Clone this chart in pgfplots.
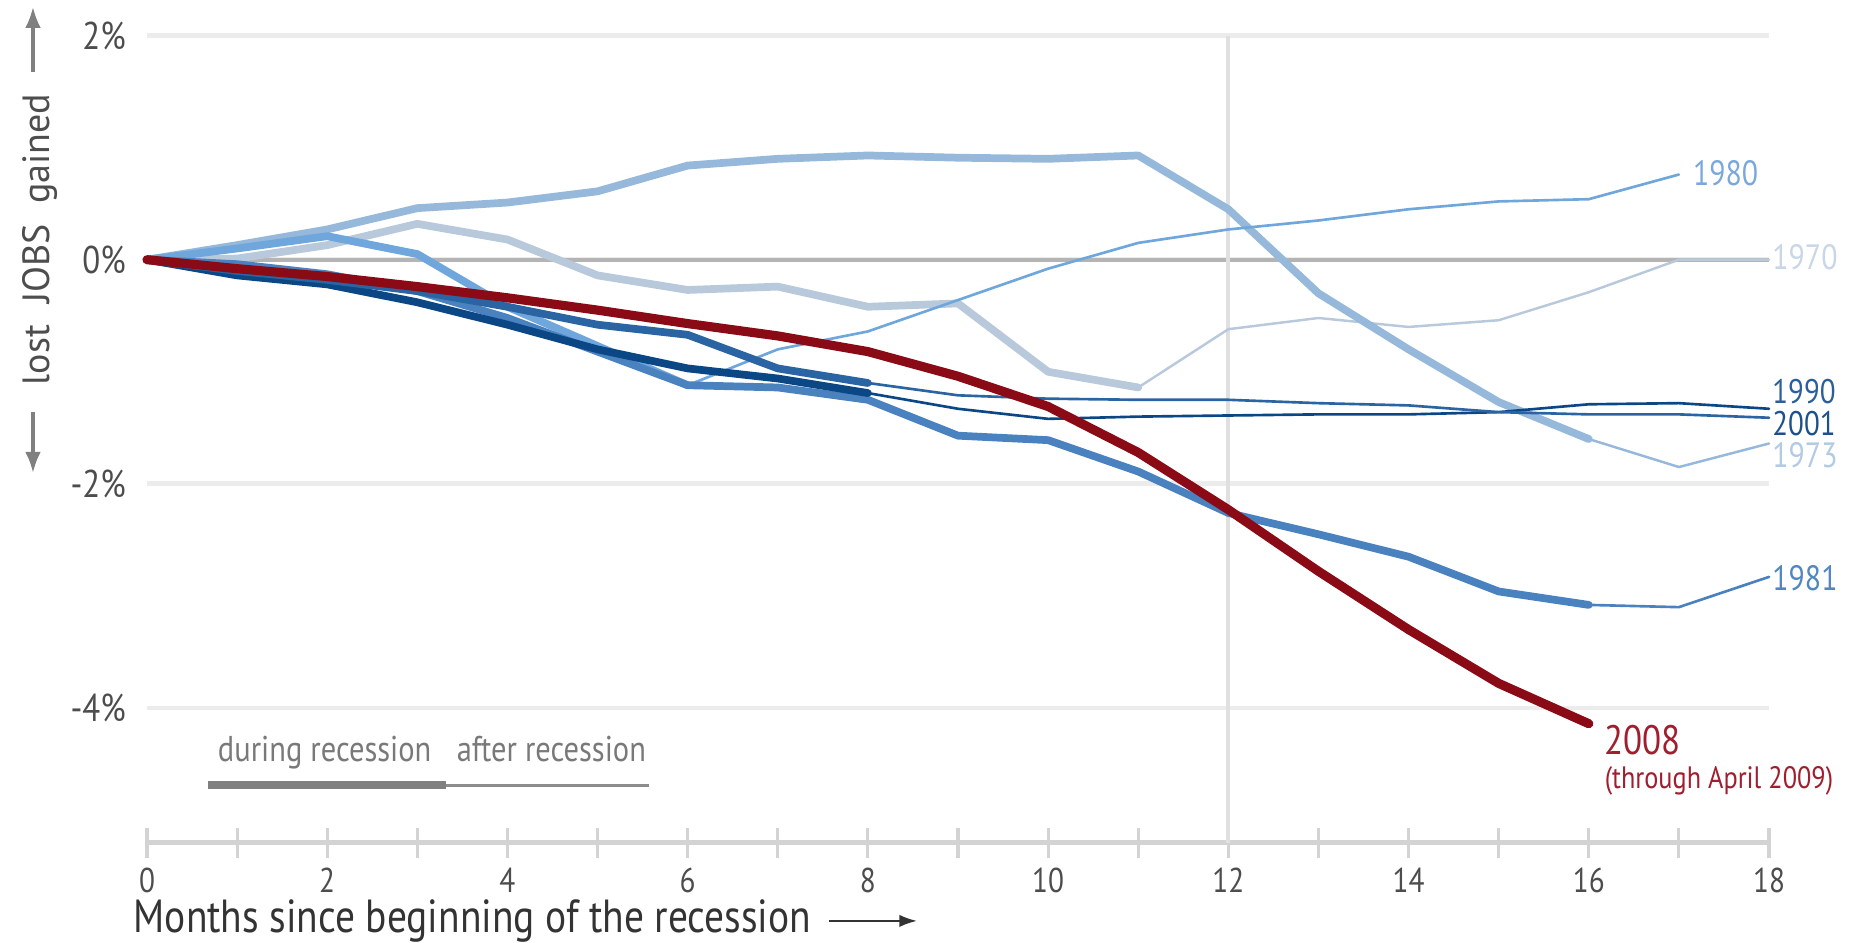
\documentclass[border=0pt]{standalone}
\usepackage{fontspec}
\setmainfont{PT Sans}[FakeStretch=0.85]
\newfontfamily\ylabfont{PT Sans}
\usepackage{pgfplots}
\pgfplotsset{compat=1.18}
\usetikzlibrary{arrows.meta}

\definecolor{cSeventy}{RGB}{185,201,220}
\definecolor{cSeventyThree}{RGB}{150,184,218}
\definecolor{cEighty}{RGB}{111,166,220}
\definecolor{cEightyOne}{RGB}{74,130,192}
\definecolor{cNinety}{RGB}{12,71,133}
\definecolor{cTwoThousand}{RGB}{42,100,162}
\definecolor{cRed}{RGB}{138,10,22}
\definecolor{lSeventy}{RGB}{200,214,230}
\definecolor{lSeventyThree}{RGB}{178,202,228}
\definecolor{lEighty}{RGB}{122,168,220}
\definecolor{lEightyOne}{RGB}{80,135,195}
\definecolor{lNinety}{RGB}{42,95,155}
\definecolor{lTwoThousand}{RGB}{30,80,140}
\definecolor{lRed}{RGB}{160,30,45}
\definecolor{gridc}{RGB}{236,236,236}
\definecolor{zeroc}{RGB}{180,180,180}
\definecolor{axisc}{RGB}{211,211,211}
\definecolor{textc}{RGB}{77,77,77}

\begin{document}
\begin{tikzpicture}
\path[use as bounding box] (-1.47,-1.0) rectangle (17.09,8.425);
\begin{axis}[
    scale only axis,
    width=16.22cm, height=8.07cm,
    xmin=0, xmax=18, ymin=-5.2, ymax=2,
    clip=false,
    axis x line*=bottom, axis y line*=left,
    x axis line style={-, draw=axisc, line width=1.2pt},
    y axis line style={draw=none},
    xtick={0,2,...,18}, minor xtick={1,3,...,17},
    xticklabels={0,2,4,6,8,10,12,14,16,18},
    ytick={-4,-2,0,2}, yticklabels={-4\%,-2\%,0\%,2\%},
    tick align=center,
    major tick length=0.3cm, minor tick length=0.3cm,
    xtick style={draw=axisc, line width=0.9pt},
    ytick style={draw=none},
    ymajorgrids, grid style={gridc, line width=1.4pt},
    xticklabel style={font=\fontsize{9.8}{10}\selectfont, text=textc, anchor=north, inner sep=0pt, yshift=-0.102cm},
    yticklabel style={font=\fontsize{11}{11}\selectfont, text=textc, anchor=east, inner sep=0pt, xshift=-0.055cm},
    every axis plot/.append style={line join=round, line cap=round},
]
% reference lines
\draw[zeroc, line width=1.1pt] (axis cs:0,0) -- (axis cs:18,0);
\draw[gridc!95!black, line width=1.2pt] (axis cs:12,2) -- (axis cs:12,-5.2);

% 1970
\addplot[cSeventy, line width=2.2pt] coordinates {(0,0) (1,0.01) (2,0.13) (3,0.32) (4,0.18) (5,-0.14) (6,-0.27) (7,-0.24) (8,-0.42) (9,-0.39) (10,-1.0) (11,-1.14)};
\addplot[cSeventy, line width=0.7pt] coordinates {(11,-1.14) (12,-0.62) (13,-0.52) (14,-0.6) (15,-0.54) (16,-0.29) (17,0.0) (18,0.0)};
% 1973
\addplot[cSeventyThree, line width=2.2pt] coordinates {(0,0) (1,0.13) (2,0.27) (3,0.46) (4,0.51) (5,0.61) (6,0.84) (7,0.9) (8,0.93) (9,0.91) (10,0.9) (11,0.93) (12,0.45) (13,-0.3) (14,-0.8) (15,-1.27) (16,-1.6)};
\addplot[cSeventyThree, line width=0.7pt] coordinates {(16,-1.6) (17,-1.85) (18,-1.64)};
% 1980
\addplot[cEighty, line width=2.2pt] coordinates {(0,0) (1,0.1) (2,0.21) (3,0.05) (4,-0.42) (5,-0.77) (6,-1.12)};
\addplot[cEighty, line width=0.75pt] coordinates {(6,-1.12) (7,-0.8) (8,-0.64) (9,-0.36) (10,-0.08) (11,0.15) (12,0.27) (13,0.35) (14,0.45) (15,0.52) (16,0.54) (17,0.76)};
% 1981
\addplot[cEightyOne, line width=2.2pt] coordinates {(0,0) (1,-0.04) (2,-0.13) (3,-0.28) (4,-0.52) (5,-0.82) (6,-1.12) (7,-1.14) (8,-1.25) (9,-1.57) (10,-1.61) (11,-1.89) (12,-2.26) (13,-2.45) (14,-2.65) (15,-2.96) (16,-3.08)};
\addplot[cEightyOne, line width=0.75pt] coordinates {(16,-3.08) (17,-3.1) (18,-2.83)};
% 1990
\addplot[cNinety, line width=2.2pt] coordinates {(0,0) (1,-0.14) (2,-0.22) (3,-0.38) (4,-0.58) (5,-0.8) (6,-0.97) (7,-1.06) (8,-1.19)};
\addplot[cNinety, line width=0.75pt] coordinates {(8,-1.19) (9,-1.33) (10,-1.42) (11,-1.4) (12,-1.39) (13,-1.38) (14,-1.38) (15,-1.36) (16,-1.29) (17,-1.28) (18,-1.33)};
% 2001
\addplot[cTwoThousand, line width=2.2pt] coordinates {(0,0) (1,-0.1) (2,-0.18) (3,-0.28) (4,-0.42) (5,-0.58) (6,-0.67) (7,-0.97) (8,-1.1)};
\addplot[cTwoThousand, line width=0.75pt] coordinates {(8,-1.1) (9,-1.21) (10,-1.24) (11,-1.25) (12,-1.25) (13,-1.28) (14,-1.3) (15,-1.36) (16,-1.38) (17,-1.38) (18,-1.41)};
% 2008
\addplot[cRed, line width=2.6pt] coordinates {(0,0) (1,-0.08) (2,-0.15) (3,-0.24) (4,-0.34) (5,-0.45) (6,-0.57) (7,-0.68) (8,-0.82) (9,-1.04) (10,-1.31) (11,-1.72) (12,-2.23) (13,-2.78) (14,-3.3) (15,-3.78) (16,-4.14)};

% series labels
\begin{scope}[every node/.style={inner sep=0pt, anchor=west, font=\fontsize{10}{10}\selectfont}]
\node[text=lEighty] at (axis cs:17.15,0.77) {1980};
\node[text=lSeventy] at (axis cs:18.03,0.02) {1970};
\node[text=lNinety, font=\fontsize{9.7}{10}\selectfont] at (axis cs:18.03,-1.18) {1990};
\node[text=lTwoThousand, font=\fontsize{9.7}{10}\selectfont] at (axis cs:18.03,-1.46) {2001};
\node[text=lSeventyThree] at (axis cs:18.03,-1.74) {1973};
\node[text=lEightyOne] at (axis cs:18.03,-2.84) {1981};
\node[text=lRed, font=\fontsize{11.7}{12}\selectfont] at (axis cs:16.17,-4.29) {2008};
\node[text=lRed, font=\fontsize{8.8}{9}\selectfont] at (axis cs:16.17,-4.65) {(through April 2009)};
\end{scope}

% recession key
\draw[gray, line width=2.3pt] (axis cs:0.68,-4.69) -- (axis cs:3.32,-4.69);
\draw[gray!90!white, line width=0.7pt] (axis cs:3.32,-4.69) -- (axis cs:5.57,-4.69);
\node[anchor=base west, inner sep=0pt, text=gray!95!black, font=\fontsize{10.2}{11}\selectfont] at (axis cs:0.78,-4.48) {during recession};
\node[anchor=base west, inner sep=0pt, text=gray!95!black, font=\fontsize{10.2}{11}\selectfont] at (axis cs:3.43,-4.48) {after recession};
\end{axis}

% y-axis label with arrows
\node[rotate=90, anchor=base, inner sep=0pt, text=textc, font=\ylabfont\fontsize{10.8}{11}\selectfont] at (-0.97,6.03) {lost\hspace*{6pt}JOBS\hspace*{6pt}gained};
\draw[gray, line width=0.9pt, -{Latex[length=6pt,width=4.5pt]}] (-1.14,7.706) -- (-1.14,8.356);
\draw[gray, line width=0.9pt, -{Latex[length=6pt,width=4.5pt]}] (-1.14,4.306) -- (-1.14,3.696);

% x-axis label with arrow
\node[anchor=base west, inner sep=0pt, text=black!80, font=\fontsize{13.2}{14}\selectfont] at (-0.14,-0.904) {Months since beginning of the recession};
\draw[black!80, line width=0.6pt, -{Latex[length=5pt,width=3.5pt]}] (6.82,-0.784) -- (7.70,-0.784);
\end{tikzpicture}
\end{document}
